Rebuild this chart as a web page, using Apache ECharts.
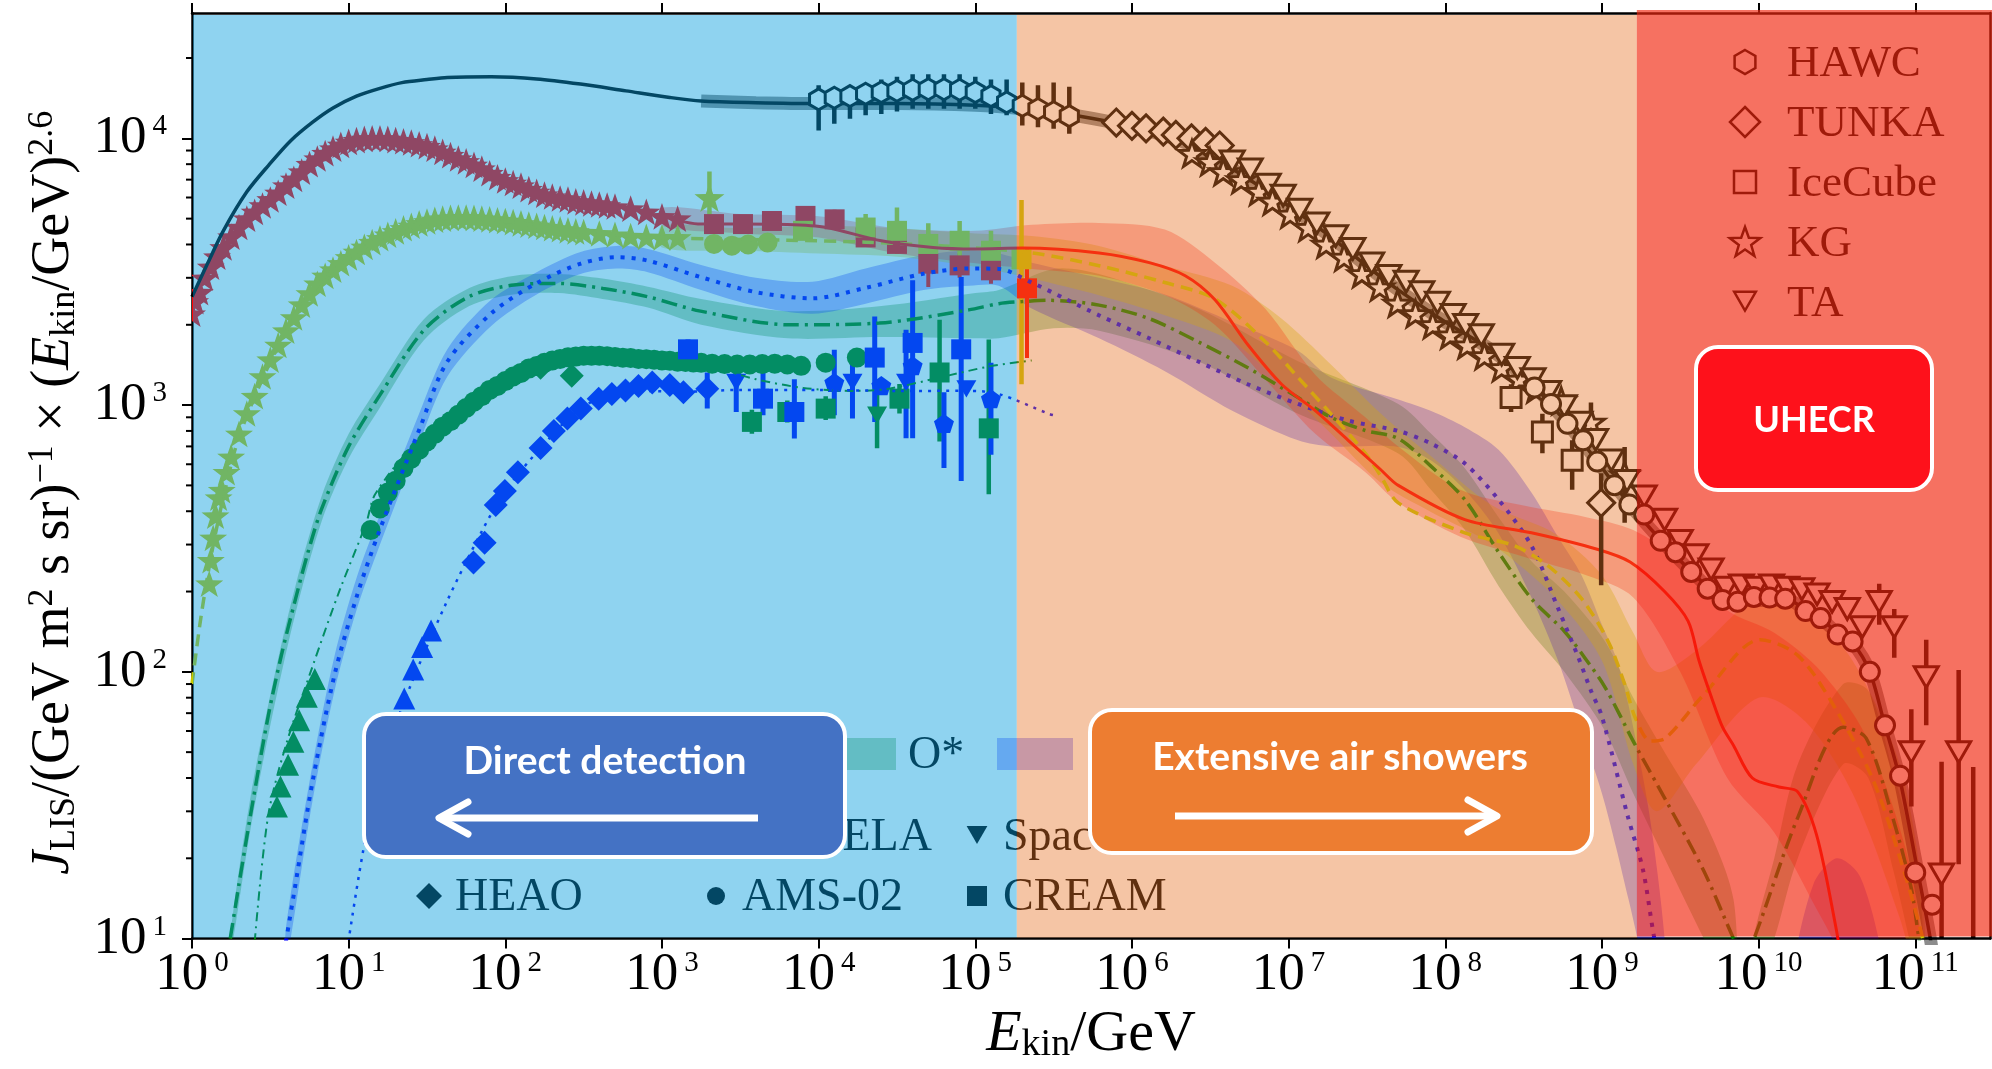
<!DOCTYPE html>
<html>
<head>
<meta charset="utf-8">
<title>Cosmic-ray spectra</title>
<script src="https://cdn.jsdelivr.net/npm/echarts@6.0.0/dist/echarts.min.js"></script>
<style>
html,body{margin:0;padding:0;background:#ffffff;}
#chart{width:1992px;height:1069px;}
</style>
</head>
<body>
<div id="chart"></div>
<script>
// Energies are log10(E_kin / GeV); fluxes are J_LIS * E^2.6.

const xTickValues = [1e0, 1e1, 1e2, 1e3, 1e4, 1e5, 1e6, 1e7, 1e8, 1e9, 1e10, 1e11];
const yTickValues = [1e1, 1e2, 1e3, 1e4];
const yMinorTickValues = [20, 30, 40, 50, 60, 70, 80, 90, 200, 300, 400, 500, 600, 700, 800, 900,
  2000, 3000, 4000, 5000, 6000, 7000, 8000, 9000, 20000];
const regionBounds = [1, 1.84e5, 1.67e9, 3e11];

// ---- model curves [lgE, J] ----
const allParticleModel = [[0.00,2550],[0.10,3400],[0.20,4500],[0.35,6300],[0.49,7940],[0.63,9800],[0.77,11500],[0.90,13000],[1.05,14400],[1.20,15400],[1.34,16170],[1.50,16600],[1.63,16900],[1.91,17000],[2.20,16700],[2.48,15970],[2.77,15060],[3.05,14230],[3.25,13800],[3.60,13600],[4.00,13500],[4.50,13500],[5.00,13300],[5.30,12900],[5.63,12200],[5.90,11400],[6.10,10700],[6.38,9420],[6.67,7500],[6.95,5850],[7.24,4400],[7.52,3250],[7.72,2650],[8.00,2050],[8.30,1600],[8.57,1170],[8.78,850],[8.97,615],[9.175,425],[9.375,312],[9.57,238],[9.77,190],[9.97,185],[10.19,186],[10.30,170],[10.40,158],[10.50,140],[10.60,128],[10.71,100],[10.80,65],[10.90,40],[11.00,20],[11.10,9.7],[11.15,6]];
const protonModel = [[3.00,5100],[3.25,4770],[3.50,4770],[3.80,4750],[4.05,4630],[4.40,4130],[4.73,3900],[5.00,3850],[5.30,3880],[5.79,3720],[6.11,3420],[6.34,3055],[6.53,2480],[6.74,1683],[6.955,1197],[7.17,953],[7.38,738],[7.59,571],[7.70,500],[8.125,372],[8.55,332],[8.97,288],[9.18,258],[9.40,200],[9.55,155],[9.62,110],[9.70,80],[9.77,62],[9.84,53],[9.96,40],[10.13,37],[10.25,35.5],[10.37,24.5],[10.49,11.3],[10.55,7]];
const heliumModel = [[0.00,90],[0.05,150],[0.10,230],[0.15,330],[0.20,450],[0.30,760],[0.50,1450],[0.70,2350],[0.90,3200],[1.20,4200],[1.50,4850],[1.80,5000],[2.10,4800],[2.50,4450],[2.90,4270],[3.30,4200],[3.80,4150],[4.30,4080],[4.80,3950],[5.36,3720],[5.79,3330],[6.21,2880],[6.53,2500],[6.85,1730],[7.06,1270],[7.27,927],[7.49,659],[7.59,540],[7.70,430],[8.125,332],[8.44,297],[8.655,250],[8.87,188],[9.04,130],[9.145,90],[9.214,67],[9.311,55],[9.408,56.5],[9.649,82],[10.01,132],[10.252,115],[10.493,72.4],[10.734,38.9],[10.927,18],[11.048,10],[11.10,7]];
const oxygenModel = [[0.244,10],[0.30,16],[0.372,28.7],[0.486,68],[0.57,115],[0.656,183],[0.74,280],[0.828,409],[1.00,700],[1.198,1087],[1.483,1918],[1.768,2550],[2.054,2820],[2.339,2857],[2.624,2737],[2.909,2548],[3.246,2250],[3.817,2000],[4.387,2030],[4.958,2275],[5.15,2400],[5.30,2443],[5.47,2470],[5.79,2370],[6.11,2110],[6.42,1730],[6.74,1380],[7.06,1067],[7.27,900],[7.49,803],[7.70,749],[7.91,589],[8.125,442],[8.34,281],[8.55,188],[8.76,142],[8.89,113],[9.02,87.5],[9.214,53],[9.408,33],[9.649,18],[9.84,10],[9.90,8.5],[9.962,9.7],[10.252,28.6],[10.54,62],[10.686,56.5],[10.855,28.6],[10.975,15.4],[11.024,10],[11.08,7]];
const carbonModel = [[0.40,9.7],[0.485,28.6],[0.599,53],[0.77,105],[0.941,201],[1.112,361],[1.169,463],[1.40,690],[1.70,950],[2.00,1230],[2.30,1430],[2.60,1510],[3.00,1470],[3.30,1400],[3.60,1250],[3.90,1160],[4.20,1130],[4.44,1150],[4.80,1280],[5.10,1400],[5.36,1470]];
const ironModel = [[0.599,9.7],[0.656,15.4],[0.77,38.9],[0.912,98.6],[1.055,194.5],[1.198,340],[1.454,818],[1.626,1443],[1.911,2208],[2.196,2857],[2.482,3390],[2.709,3583],[2.909,3480],[3.246,3020],[3.60,2650],[3.959,2512],[4.30,2750],[4.672,3110],[4.958,3250],[5.15,3240],[5.36,2880],[5.57,2510],[5.79,2170],[6.11,1780],[6.42,1460],[6.74,1197],[7.06,1010],[7.38,875],[7.70,800],[7.91,717],[8.125,604],[8.34,442],[8.55,297],[8.72,173],[8.85,113],[8.93,85],[9.00,68],[9.166,28.6],[9.263,18],[9.335,10],[9.40,7]];
const ironLowModel = [[0.998,9.7],[1.112,24.5],[1.255,53],[1.398,89.7],[1.626,183],[1.854,340],[2.00,476],[2.225,690],[2.48,970],[2.77,1135],[3.14,1122],[3.50,1140],[4.00,1140],[4.50,1130],[4.958,1131],[5.15,1100],[5.47,927],[5.50,916]];

// ---- uncertainty bands [lgE, low, high] ----
const protonBand = [[3.0,4700,5500],[3.5,4400,5200],[4.0,4250,5100],[4.5,3700,4600],[5.0,3400,4500],[5.36,3240,4740],[5.79,3055,4820],[6.21,2580,4550],[6.53,1995,3420],[6.85,1250,2300],[7.17,780,1300],[7.49,560,900],[7.70,430,700],[8.1,320,480],[8.5,270,420],[8.9,230,380],[9.2,190,340],[9.5,100,260],[9.8,40,170],[10.1,25,140],[10.4,12,100],[10.7,6,55],[11.0,5,15]];
const heliumBand = [[3.0,3900,4700],[3.5,3800,4600],[4.0,3700,4700],[4.5,3600,4600],[5.0,3300,4400],[5.36,2980,4300],[5.79,2580,3950],[6.21,2170,3330],[6.64,1730,2800],[6.95,1197,2120],[7.27,782,1420],[7.59,510,927],[7.9,400,650],[8.3,300,420],[8.7,190,330],[9.0,110,230],[9.2,45,140],[9.35,30,100],[9.6,45,120],[10.0,80,190],[10.3,65,170],[10.6,35,110],[10.9,12,45],[11.05,6,14]];
const oxygenBand = [[0.25,9,11],[0.37,25,33],[0.5,63,82],[0.66,165,210],[0.83,370,460],[1.0,630,780],[1.2,980,1200],[1.48,1750,2100],[1.77,2350,2750],[2.05,2600,3050],[2.34,2630,3100],[2.62,2500,2980],[2.91,2320,2780],[3.25,2000,2500],[3.8,1780,2250],[4.4,1800,2350],[5.0,1780,2630],[5.15,1780,2700],[5.5,1940,3240],[5.79,1900,3100],[6.42,1460,2300],[7.06,927,1460],[7.70,659,1010],[7.91,480,780],[8.125,340,580],[8.34,210,380],[8.55,140,260],[8.76,100,200],[9.02,60,130],[9.2,35,80],[9.4,20,50],[9.65,10,28],[9.84,6,14]];
const oxygenBandHigh = [[9.95,6,9],[10.1,10,20],[10.25,20,45],[10.54,45,90],[10.7,40,85],[10.86,18,42],[11.0,8,20],[11.06,6,9]];
const ironBand = [[0.6,8,11],[0.77,33,45],[0.91,85,115],[1.05,170,225],[1.2,300,390],[1.45,720,930],[1.63,1280,1620],[1.91,1980,2480],[2.2,2600,3150],[2.48,3100,3750],[2.71,3250,3950],[2.91,3150,3850],[3.25,2700,3350],[3.6,2350,3000],[3.96,2200,2900],[4.3,2400,3250],[4.67,2700,3650],[4.96,2800,3800],[5.15,2800,3700],[5.36,2300,3420],[5.79,1780,3000],[6.21,1340,2600],[6.64,953,2050],[7.06,738,1600],[7.27,700,1270],[7.70,697,1050],[7.91,620,950],[8.125,480,826],[8.34,330,680],[8.55,190,470],[8.72,110,320],[8.87,60,230],[9.0,35,150],[9.09,22,113],[9.17,14,75],[9.3,7,30],[9.4,6,10]];
const ironBandHigh = [[10.2,6,7],[10.35,9,16],[10.5,10,20],[10.65,9,17],[10.8,6,8]];

// ---- direct measurements [lgE, J] ----
const protonStars = [[0.00,2200],[0.02,2450],[0.05,2650],[0.08,3000],[0.12,3300],[0.16,3600],[0.20,3900],[0.25,4280],[0.30,4650],[0.35,5000],[0.40,5300],[0.45,5600],[0.50,5900],[0.55,6250],[0.60,6650],[0.65,7050],[0.70,7500],[0.75,8000],[0.80,8400],[0.85,8800],[0.90,9150],[0.95,9450],[1.00,9700],[1.05,9850],[1.10,9950],[1.15,10000],[1.20,10000],[1.25,9950],[1.30,9850],[1.35,9750],[1.40,9650],[1.45,9500],[1.50,9350],[1.55,9150],[1.60,8900],[1.65,8650],[1.70,8400],[1.75,8200],[1.80,7950],[1.85,7700],[1.90,7400],[1.95,7150],[2.00,6950],[2.05,6800],[2.10,6650],[2.15,6450],[2.20,6300],[2.25,6150],[2.30,6050],[2.35,5950],[2.40,5900],[2.45,5800],[2.50,5750],[2.55,5700],[2.60,5650],[2.65,5600],[2.70,5550],[2.80,5450],[2.90,5300],[3.00,5100],[3.10,5000]];
const protonSquaresHigh = [[3.332,4770],[3.517,4770],[3.702,4900],[3.916,5120],[4.102,4970]];
const protonSquaresLow = [[4.30,4250],[4.50,4020],[4.70,3390],[4.90,3340],[5.10,3200],[5.33,2740]];
const protonErrors = [[4.102,4600,5400],[4.50,3700,4350],[4.70,2770,3590],[4.90,3000,3700],[5.10,2850,3550],[5.33,1500,3840]];

const heliumStars = [[0.11,214],[0.12,262],[0.135,318],[0.15,385],[0.17,450],[0.19,480],[0.22,560],[0.25,640],[0.30,780],[0.35,930],[0.40,1080],[0.45,1280],[0.50,1480],[0.55,1680],[0.60,1900],[0.65,2130],[0.70,2380],[0.75,2620],[0.80,2850],[0.85,3050],[0.90,3220],[0.95,3400],[1.00,3580],[1.05,3750],[1.10,3920],[1.15,4080],[1.20,4220],[1.25,4350],[1.30,4480],[1.35,4600],[1.40,4700],[1.45,4800],[1.50,4880],[1.55,4950],[1.60,5000],[1.65,5030],[1.70,5050],[1.75,5050],[1.80,5030],[1.85,5000],[1.90,4970],[1.95,4930],[2.00,4900],[2.05,4850],[2.10,4800],[2.15,4750],[2.20,4700],[2.25,4650],[2.30,4600],[2.35,4560],[2.40,4520],[2.45,4480],[2.50,4450],[2.60,4400],[2.70,4350],[2.80,4300],[2.90,4270],[3.00,4250],[3.10,4250]];
const heliumCircles = [[3.332,4020],[3.446,3960],[3.55,4000],[3.674,4070]];
const heliumSquares = [[3.90,4500],[4.30,4630],[4.50,4500],[4.70,4020],[4.90,4130],[5.10,3790],[5.295,3520]];
const heliumBigStar = [[3.303,5990]];
const heliumErrors = [[3.303,4770,7510],[4.30,4100,5200],[4.50,3690,5500],[4.70,3400,4800],[4.90,3600,4900],[5.10,3300,4500],[5.295,1197,5870]];

const oxygenCircles = [[1.14,340],[1.20,410],[1.25,470],[1.30,520],[1.35,580],[1.40,630],[1.45,680],[1.50,730],[1.55,780],[1.60,830],[1.65,870],[1.70,920],[1.75,975],[1.80,1030],[1.85,1080],[1.90,1140],[1.95,1180],[2.00,1230],[2.05,1280],[2.10,1320],[2.15,1370],[2.20,1400],[2.25,1440],[2.30,1470],[2.35,1490],[2.40,1510],[2.45,1520],[2.50,1530],[2.55,1530],[2.60,1530],[2.65,1525],[2.70,1515],[2.75,1505],[2.80,1500],[2.85,1490],[2.90,1485],[2.95,1480],[3.00,1470],[3.05,1465],[3.10,1455],[3.15,1450],[3.20,1445],[3.25,1440],[3.32,1430],[3.40,1425],[3.48,1420],[3.56,1420],[3.64,1425],[3.72,1430],[3.80,1420],[3.888,1403],[4.045,1442],[4.244,1507]];
const oxygenTriangles = [[0.542,31.3],[0.565,37.2],[0.613,44.8],[0.647,54.7],[0.684,65.9],[0.733,80.6],[0.784,94]];
const oxygenDiamonds = [[2.225,1380],[2.424,1289]];
const oxygenSquares = [[3.574,865],[3.80,942],[4.045,970],[4.516,1057],[4.772,1325],[5.086,818]];
const oxygenTriDown = [[4.373,916]];
const oxygenErrors = [[3.574,780,960],[3.80,860,1040],[4.045,880,1080],[4.373,689,1250],[4.516,930,1200],[4.772,730,2090],[5.086,463,1762]];

const ironTriangles = [[1.355,79.4],[1.412,102],[1.469,124],[1.526,143]];
const ironDiamonds = [[1.797,257],[1.868,305],[1.939,422],[1.997,476],[2.08,560],[2.225,690],[2.31,800],[2.396,891],[2.482,970],[2.596,1057],[2.68,1100],[2.767,1133],[2.85,1180],[2.938,1216],[3.05,1190],[3.137,1117],[3.289,1151]];
const ironSquares = [[3.166,1618],[3.645,1057],[3.845,942],[4.358,1507],[4.60,1710],[4.91,1618]];
const ironTriDown = [[3.474,1216],[4.216,1216],[4.558,1216],[4.943,1151]];
const ironPentagons = [[4.10,1216],[4.40,1183],[4.60,1403],[4.80,853],[5.10,1057]];
const ironErrors = [[3.166,1365,1762],[3.289,970,1325],[3.474,942,1442],[3.645,916,1442],[3.845,750,1250],[4.10,916,1614],[4.216,890,1442],[4.358,865,2148],[4.558,751,1918],[4.60,751,2940],[4.80,581,1117],[4.91,519,3020],[5.10,651,1442]];

// ---- air-shower measurements [lgE, J] and [lgE, low, high] ----
const hawcData = [[4.0,14000],[4.1,14200],[4.2,14400],[4.3,14700],[4.4,14900],[4.5,15060],[4.6,15200],[4.7,15280],[4.8,15280],[4.9,15200],[5.0,14900],[5.1,14400],[5.2,13640],[5.3,13240],[5.4,12880],[5.5,12530],[5.6,12110]];
const hawcErrors = [[4.0,10700,15800],[4.1,11340,15000],[4.2,11840,14800],[4.3,12200,15600],[4.4,12350,16600],[4.5,12600,17000],[4.6,12900,17400],[4.7,12900,17400],[4.8,12900,17400],[4.9,12900,17400],[5.0,12900,17000],[5.1,12350,16600],[5.2,12200,16600],[5.3,11170,16200],[5.4,11000,15800],[5.5,10860,16200],[5.6,10400,15600]];
const tunkaData = [[5.90,11460],[6.00,11140],[6.09,10900],[6.20,10600],[6.28,10300],[6.38,10000],[6.47,9700],[6.56,9400],[8.995,430]];
const tunkaErrors = [[8.995,211,555]];
const iceCubeData = [[8.42,1067],[8.62,792],[8.81,621]];
const iceCubeErrors = [[8.42,942,1197],[8.62,660,927],[8.81,482,738]];
const kgData = [[6.383,8770],[6.498,8170],[6.583,7500],[6.697,6990],[6.81,6320],[6.897,5810],[7.01,5190],[7.125,4630],[7.24,4010],[7.354,3580],[7.468,3110],[7.582,2770],[7.696,2410],[7.81,2200],[7.92,2000],[8.03,1830],[8.14,1680],[8.25,1530],[8.36,1380],[8.47,1250],[8.58,1150],[8.74,1038],[8.93,863],[9.145,547]];
const kgErrors = [[8.93,760,1023],[9.145,362,697]];
const taData = [[6.64,8200],[6.755,7650],[6.87,6700],[6.965,6100],[7.07,5400],[7.18,4800],[7.30,4300],[7.41,3850],[7.53,3400],[7.64,3050],[7.75,2900],[7.85,2650],[7.95,2420],[8.05,2180],[8.13,2000],[8.23,1830],[8.36,1545],[8.46,1380],[8.56,1250],[8.66,1120],[8.76,990],[8.86,860],[8.96,740],[9.06,620],[9.16,520],[9.27,455],[9.40,372],[9.50,310],[9.60,274],[9.697,242],[9.793,207],[9.89,211],[9.986,207],[10.083,211],[10.18,207],[10.276,204],[10.373,195],[10.469,183],[10.566,172],[10.662,147],[10.77,183],[10.866,147],[10.975,50],[11.07,95.5],[11.168,17.4],[11.277,50]];
const taErrors = [[10.77,150,214],[10.866,113,172],[10.975,31.3,72.4],[11.07,63,132],[11.168,6,46],[11.277,19,101.6],[11.37,6,44]];
const uheCircles = [[8.57,1164],[8.675,1010],[8.78,851],[8.88,738],[8.97,614],[9.08,501],[9.175,424],[9.27,389],[9.375,310],[9.47,281],[9.57,237],[9.675,205],[9.77,186],[9.866,183],[9.97,191],[10.07,190],[10.17,188],[10.30,169],[10.396,159],[10.505,138],[10.60,130],[10.71,100],[10.807,63],[10.903,40.8],[11.0,17.7],[11.108,13.4]];

// ---------------------------------------------------------------
const SERIF = 'Liberation Serif';
const SANS = 'Lato';
const RED = 'rgb(255,0,0)';
const GOLD = 'rgb(200,200,0)';
const GREEN = 'rgb(0,128,0)';
const BLUE = 'rgb(0,0,255)';
const BLACK = '#000000';
const REGION_TINTS = ['rgba(7,158,222,0.45)', 'rgba(231,116,39,0.415)', 'rgba(242,39,15,0.66)'];

const STAR_PATH = 'M0,-10L2.351,-3.236L9.511,-3.09L3.804,1.236L5.878,8.09L0,4L-5.878,8.09L-3.804,1.236L-9.511,-3.09L-2.351,-3.236Z';
const SYM = {
  star: 'path://' + STAR_PATH,
  hex: 'path://M0,-10L8.66,-5L8.66,5L0,10L-8.66,5L-8.66,-5Z',
  triDown: 'path://M-10,-8.66L10,-8.66L0,8.66Z',
  pent: 'path://M0,-10L9.511,-3.09L5.878,8.09L-5.878,8.09L-9.511,-3.09Z'
};

const toE = lg => Math.pow(10, lg);
const pts = rows => rows.map(r => [toE(r[0]), r[1]]);

function lineSeries(name, rows, color, width, type, z) {
  return { name, type: 'line', data: pts(rows), z, symbol: 'none', showSymbol: false,
    smooth: 0.3, silent: true, clip: true, animation: false,
    lineStyle: { color, width, type, cap: 'butt' } };
}
function scatterSeries(name, rows, symbol, size, fill, stroke, strokeWidth, z) {
  return { name, type: 'scatter', data: pts(rows), z, symbol, symbolSize: size,
    symbolKeepAspect: true, silent: true, clip: true, animation: false,
    itemStyle: { color: fill, borderColor: stroke || fill, borderWidth: strokeWidth || 0, opacity: 1 } };
}
// star markers cut at the plot frame, for the dense low-energy data
function clippedStarSeries(name, rows, size, fill, z) {
  return { name, type: 'custom', z, silent: true, clip: true, animation: false,
    data: pts(rows), encode: { x: 0, y: 1 },
    renderItem(params, api) {
      const p = api.coord([api.value(0), api.value(1)]);
      return { type: 'path', shape: { pathData: STAR_PATH, x: p[0] - size / 2, y: p[1] - size / 2,
        width: size, height: size, layout: 'center' }, style: { fill } };
    } };
}
function errorBarSeries(name, rows, color, width, z) {
  return { name, type: 'custom', z, silent: true, clip: true, animation: false,
    data: rows.map(r => [toE(r[0]), r[1], r[2]]),
    encode: { x: 0, y: [1, 2] },
    renderItem(params, api) {
      const a = api.coord([api.value(0), api.value(1)]);
      const b = api.coord([api.value(0), api.value(2)]);
      return { type: 'line', shape: { x1: a[0], y1: a[1], x2: b[0], y2: b[1] },
        style: { stroke: color, lineWidth: width } };
    } };
}
function bandSeries(name, rows, fill, z) {
  return { name, type: 'custom', z, silent: true, clip: true, animation: false,
    data: [[toE(rows[0][0]), rows[0][2]]],
    encode: { x: 0, y: 1 },
    renderItem(params, api) {
      const upper = rows.map(r => api.coord([toE(r[0]), r[2]]));
      const lower = rows.map(r => api.coord([toE(r[0]), r[1]])).reverse();
      return { type: 'polygon', shape: { points: upper.concat(lower), smooth: 0.3 }, style: { fill } };
    } };
}

const tickRich = {
  b: { fontFamily: SERIF, fontSize: 53, lineHeight: 52, color: '#000' },
  s: { fontFamily: SERIF, fontSize: 29, lineHeight: 18, color: '#000', verticalAlign: 'top', padding: [0, 0, 0, 6] }
};
function decadeLabel(v) {
  const e = Math.log10(v);
  if (Math.abs(e - Math.round(e)) > 1e-6) return '';
  return '{b|10}{s|' + Math.round(e) + '}';
}

// ---- legend helpers (pixel geometry of the key symbols) ----
function polyPts(cx, cy, r, n, rot) {
  const p = [];
  for (let i = 0; i < n; i++) {
    const a = rot + i * 2 * Math.PI / n;
    p.push([cx + r * Math.sin(a), cy - r * Math.cos(a)]);
  }
  return p;
}
function starPts(cx, cy, R, r) {
  const p = [];
  for (let i = 0; i < 10; i++) {
    const a = i * Math.PI / 5;
    const rr = i % 2 === 0 ? R : r;
    p.push([cx + rr * Math.sin(a), cy - rr * Math.cos(a)]);
  }
  return p;
}
const legendFont = '46px "' + SERIF + '"';
const keyFont = '45px "' + SERIF + '"';
const hollow = { fill: 'rgba(255,255,255,0)', stroke: '#000', lineWidth: 2.5 };

const legendGraphics = [
  // band key patches
  { type: 'rect', z: 4, shape: { x: 820, y: 738, width: 76, height: 32 }, style: { fill: 'rgba(0,128,0,0.31)' } },
  { type: 'text', z: 4, x: 908, y: 756, style: { text: 'O*', font: legendFont, fill: '#000', verticalAlign: 'middle' } },
  { type: 'rect', z: 4, shape: { x: 997, y: 738, width: 76, height: 32 }, style: { fill: 'rgba(0,0,255,0.3)' } },
  // experiment keys
  { type: 'text', z: 4, x: 747, y: 838, style: { text: 'PAMELA', font: legendFont, fill: '#000', verticalAlign: 'middle' } },
  { type: 'polygon', z: 4, shape: { points: polyPts(977, 832, 12, 3, Math.PI) }, style: { fill: '#000' } },
  { type: 'text', z: 4, x: 1003, y: 838, style: { text: 'Space', font: legendFont, fill: '#000', verticalAlign: 'middle' } },
  { type: 'polygon', z: 4, shape: { points: polyPts(429, 896, 13, 4, 0) }, style: { fill: '#000' } },
  { type: 'text', z: 4, x: 455, y: 898, style: { text: 'HEAO', font: legendFont, fill: '#000', verticalAlign: 'middle' } },
  { type: 'circle', z: 4, shape: { cx: 716, cy: 896, r: 9 }, style: { fill: '#000' } },
  { type: 'text', z: 4, x: 742, y: 898, style: { text: 'AMS-02', font: legendFont, fill: '#000', verticalAlign: 'middle' } },
  { type: 'rect', z: 4, shape: { x: 967, y: 886, width: 20, height: 20 }, style: { fill: '#000' } },
  { type: 'text', z: 4, x: 1003, y: 898, style: { text: 'CREAM', font: legendFont, fill: '#000', verticalAlign: 'middle' } },
  // air-shower keys
  { type: 'polygon', z: 4, shape: { points: polyPts(1745, 62, 12, 6, 0) }, style: hollow },
  { type: 'text', z: 4, x: 1787, y: 64, style: { text: 'HAWC', font: keyFont, fill: '#000', verticalAlign: 'middle' } },
  { type: 'polygon', z: 4, shape: { points: polyPts(1745, 122, 15, 4, 0) }, style: hollow },
  { type: 'text', z: 4, x: 1787, y: 124, style: { text: 'TUNKA', font: keyFont, fill: '#000', verticalAlign: 'middle' } },
  { type: 'rect', z: 4, shape: { x: 1734, y: 171, width: 22, height: 22 }, style: hollow },
  { type: 'text', z: 4, x: 1787, y: 184, style: { text: 'IceCube', font: keyFont, fill: '#000', verticalAlign: 'middle' } },
  { type: 'polygon', z: 4, shape: { points: starPts(1745, 243, 16, 6.5) }, style: hollow },
  { type: 'text', z: 4, x: 1787, y: 244, style: { text: 'KG', font: keyFont, fill: '#000', verticalAlign: 'middle' } },
  { type: 'polygon', z: 4, shape: { points: polyPts(1745, 298, 12.5, 3, Math.PI) }, style: hollow },
  { type: 'text', z: 4, x: 1787, y: 304, style: { text: 'TA', font: keyFont, fill: '#000', verticalAlign: 'middle' } }
];

const boxFont = 'bold 39px ' + SANS;
const boxGraphics = [
  { type: 'rect', z: 10, shape: { x: 364, y: 714, width: 481, height: 143, r: 22 }, style: { fill: '#4472c4', stroke: '#ffffff', lineWidth: 4 } },
  { type: 'text', z: 11, x: 605, y: 761, style: { text: 'Direct detection', font: boxFont, fill: '#ffffff', align: 'center', verticalAlign: 'middle' } },
  { type: 'line', z: 11, shape: { x1: 758, y1: 818, x2: 442, y2: 818 }, style: { stroke: '#ffffff', lineWidth: 7 } },
  { type: 'polyline', z: 11, shape: { points: [[468, 802], [439, 818], [468, 834]] }, style: { stroke: '#ffffff', lineWidth: 7, fill: 'none', lineJoin: 'round', lineCap: 'round' } },

  { type: 'rect', z: 10, shape: { x: 1090, y: 710, width: 502, height: 143, r: 22 }, style: { fill: '#ed7d31', stroke: '#ffffff', lineWidth: 4 } },
  { type: 'text', z: 11, x: 1340, y: 757, style: { text: 'Extensive air showers', font: boxFont, fill: '#ffffff', align: 'center', verticalAlign: 'middle' } },
  { type: 'line', z: 11, shape: { x1: 1175, y1: 816, x2: 1494, y2: 816 }, style: { stroke: '#ffffff', lineWidth: 7 } },
  { type: 'polyline', z: 11, shape: { points: [[1468, 800], [1497, 816], [1468, 832]] }, style: { stroke: '#ffffff', lineWidth: 7, fill: 'none', lineJoin: 'round', lineCap: 'round' } },

  { type: 'rect', z: 10, shape: { x: 1696, y: 347, width: 236, height: 143, r: 22 }, style: { fill: '#fe111b', stroke: '#ffffff', lineWidth: 4 } },
  { type: 'text', z: 11, x: 1814, y: 420, style: { text: 'UHECR', font: 'bold 36px ' + SANS, fill: '#ffffff', align: 'center', verticalAlign: 'middle' } }
];

// ---------------------------------------------------------------
const series = [
  // uncertainty bands
  bandSeries('O band', oxygenBand, 'rgba(0,128,0,0.31)', 1),
  bandSeries('O band high', oxygenBandHigh, 'rgba(0,128,0,0.31)', 1),
  bandSeries('Fe band', ironBand, 'rgba(0,0,255,0.3)', 1),
  bandSeries('Fe band high', ironBandHigh, 'rgba(0,0,255,0.3)', 1),
  bandSeries('He band', heliumBand, 'rgba(200,200,0,0.35)', 1),
  bandSeries('H band', protonBand, 'rgba(255,0,0,0.28)', 1),
  lineSeries('all band', allParticleModel.filter(r => r[0] >= 3.25), 'rgba(0,0,0,0.45)', 13, 'solid', 1),

  // direct measurements
  clippedStarSeries('H stars', protonStars, 28, RED, 2),
  clippedStarSeries('He stars', heliumStars, 28, GOLD, 2),
  scatterSeries('O circles', oxygenCircles, 'circle', 20, GREEN, null, 0, 2),
  scatterSeries('O triangles', oxygenTriangles, 'triangle', 22, GREEN, null, 0, 2),
  scatterSeries('O diamonds', oxygenDiamonds, 'diamond', 24, GREEN, null, 0, 2),
  scatterSeries('Fe triangles', ironTriangles, 'triangle', 22, BLUE, null, 0, 2),
  scatterSeries('Fe diamonds', ironDiamonds, 'diamond', 24, BLUE, null, 0, 2),
  errorBarSeries('H err', protonErrors, RED, 4, 2),
  errorBarSeries('He err', heliumErrors, GOLD, 4.5, 2),
  errorBarSeries('O err', oxygenErrors, GREEN, 4.5, 2),
  errorBarSeries('Fe err', ironErrors, BLUE, 5, 2),
  scatterSeries('H squares', protonSquaresHigh, 'rect', 20, RED, null, 0, 2),
  scatterSeries('H squares 2', protonSquaresLow, 'rect', 20, RED, null, 0, 2),
  scatterSeries('He circles', heliumCircles, 'circle', 20, GOLD, null, 0, 2),
  scatterSeries('He squares', heliumSquares, 'rect', 20, GOLD, null, 0, 2),
  scatterSeries('He star', heliumBigStar, SYM.star, 30, GOLD, null, 0, 2),
  scatterSeries('O squares', oxygenSquares, 'rect', 20, GREEN, null, 0, 2),
  scatterSeries('O tri down', oxygenTriDown, SYM.triDown, 20, GREEN, null, 0, 2),
  scatterSeries('Fe squares', ironSquares, 'rect', 20, BLUE, null, 0, 2),
  scatterSeries('Fe tri down', ironTriDown, SYM.triDown, 20, BLUE, null, 0, 2),
  scatterSeries('Fe pentagons', ironPentagons, SYM.pent, 20, BLUE, null, 0, 2),

  // models
  lineSeries('C model', carbonModel, GREEN, 2, [9, 5, 2, 5], 3),
  lineSeries('Fe low model', ironLowModel, BLUE, 2.5, [3, 6], 3),
  lineSeries('O model', oxygenModel, GREEN, 3.5, [16, 6, 3, 6], 3),
  lineSeries('Fe model', ironModel, BLUE, 4, [4, 7], 3),
  lineSeries('He model', heliumModel, GOLD, 3.5, [12, 7], 3),
  lineSeries('H model', protonModel, RED, 3, 'solid', 3),
  lineSeries('all-particle', allParticleModel, BLACK, 3.5, 'solid', 3),

  // air-shower measurements
  errorBarSeries('HAWC err', hawcErrors, BLACK, 4.5, 4),
  errorBarSeries('TUNKA err', tunkaErrors, BLACK, 4.5, 4),
  errorBarSeries('IceCube err', iceCubeErrors, BLACK, 4.5, 4),
  errorBarSeries('KG err', kgErrors, BLACK, 4.5, 4),
  errorBarSeries('TA err', taErrors, BLACK, 4.5, 4),
  scatterSeries('HAWC', hawcData, SYM.hex, 21, '#ffffff', BLACK, 3, 4),
  scatterSeries('TUNKA', tunkaData, 'diamond', 27, '#ffffff', BLACK, 3, 4),
  scatterSeries('KG', kgData, SYM.star, 27, '#ffffff', BLACK, 3, 4),
  scatterSeries('TA', taData, SYM.triDown, 24, '#ffffff', BLACK, 3, 4),
  scatterSeries('IceCube', iceCubeData, 'rect', 20, '#ffffff', BLACK, 3, 4),
  scatterSeries('UHE', uheCircles, 'circle', 19, '#ffffff', BLACK, 3, 4),

  // y minor ticks
  { type: 'custom', name: 'minor ticks', z: 5, silent: true, clip: false, animation: false,
    data: yMinorTickValues.map(v => [1, v]), encode: { x: 0, y: 1 },
    renderItem(params, api) {
      const p = api.coord([1, api.value(1)]);
      return { type: 'line', shape: { x1: p[0] - 6, y1: p[1], x2: p[0], y2: p[1] }, style: { stroke: '#000', lineWidth: 2 } };
    } },

  // detection-technique regions
  { type: 'custom', name: 'regions', z: 8, silent: true, clip: false, animation: false,
    data: [[regionBounds[0], regionBounds[1], 0, 10], [regionBounds[1], regionBounds[2], 1, 10], [regionBounds[2], regionBounds[3], 2, 10]],
    encode: { x: [0, 1], y: 3 },
    renderItem(params, api) {
      const cs = params.coordSys;
      const i = api.value(2);
      let x0 = api.coord([api.value(0), 10])[0];
      let x1 = api.coord([api.value(1), 10])[0];
      let y0 = cs.y + 2, y1 = cs.y + cs.height - 1;
      if (i === 0) x0 = cs.x + 1;
      if (i === 2) { y0 = cs.y - 3; y1 = cs.y + cs.height - 2; x1 = cs.x + cs.width + 4; }
      return { type: 'rect', shape: { x: x0, y: y0, width: x1 - x0, height: y1 - y0 }, style: { fill: REGION_TINTS[i] } };
    } }
];

const axisLineStyle = { color: '#000', width: 2.5 };
const option = {
  animation: false,
  backgroundColor: '#ffffff',
  textStyle: { fontFamily: SERIF },
  grid: { left: 192, right: 2, top: 13, bottom: 118, containLabel: false },
  xAxis: [
    { type: 'log', logBase: 10, min: 1, max: 3e11, position: 'bottom', interval: 1,
      axisLine: { show: true, lineStyle: axisLineStyle },
      axisTick: { show: true, length: 10, lineStyle: { color: '#000', width: 2 }, customValues: xTickValues },
      axisLabel: { show: true, margin: 10, fontFamily: SERIF, fontSize: 53, color: '#000',
        customValues: xTickValues, formatter: decadeLabel, rich: tickRich },
      splitLine: { show: false }, minorTick: { show: false },
      name: '{i|E}{sub|kin}{n|/GeV}', nameLocation: 'middle', nameGap: 62,
      nameTextStyle: { fontFamily: SERIF, rich: {
        i: { fontFamily: SERIF, fontStyle: 'italic', fontSize: 58, lineHeight: 58, color: '#000' },
        sub: { fontFamily: SERIF, fontSize: 38, lineHeight: 38, color: '#000', verticalAlign: 'bottom' },
        n: { fontFamily: SERIF, fontSize: 58, lineHeight: 58, color: '#000' } } } },
    { type: 'log', logBase: 10, min: 1, max: 3e11, position: 'top', interval: 1,
      axisLine: { show: true, lineStyle: axisLineStyle },
      axisTick: { show: true, length: 10, lineStyle: { color: '#000', width: 2 }, customValues: xTickValues },
      axisLabel: { show: false }, splitLine: { show: false } }
  ],
  yAxis: [
    { type: 'log', logBase: 10, min: 10, max: 29500, position: 'left', interval: 1,
      axisLine: { show: true, lineStyle: axisLineStyle },
      axisTick: { show: true, length: 10, lineStyle: { color: '#000', width: 2 }, customValues: yTickValues },
      axisLabel: { show: true, margin: 25, fontFamily: SERIF, fontSize: 53, color: '#000',
        customValues: yTickValues, formatter: decadeLabel, rich: tickRich },
      splitLine: { show: false }, minorTick: { show: false },
      name: '{i|J}{ss|LIS}{n|/(GeV m}{sp|2}{n| s sr)}{sp|\u22121}{n| \u00d7 (}{i|E}{ss|kin}{n|/GeV)}{sp|2.6}',
      nameLocation: 'middle', nameGap: 108, nameRotate: 90,
      nameTextStyle: { fontFamily: SERIF, padding: [0, 34, 0, 0], rich: {
        i: { fontFamily: SERIF, fontStyle: 'italic', fontSize: 54, lineHeight: 58, color: '#000' },
        n: { fontFamily: SERIF, fontSize: 54, lineHeight: 58, color: '#000' },
        ss: { fontFamily: SERIF, fontSize: 36, lineHeight: 36, color: '#000', verticalAlign: 'bottom' },
        sp: { fontFamily: SERIF, fontSize: 36, lineHeight: 30, color: '#000', verticalAlign: 'top' } } } },
    { type: 'log', logBase: 10, min: 10, max: 29500, position: 'right',
      axisLine: { show: true, lineStyle: axisLineStyle },
      axisTick: { show: false }, axisLabel: { show: false }, splitLine: { show: false } }
  ],
  graphic: { elements: legendGraphics.concat(boxGraphics) },
  series
};

const chart = echarts.init(document.getElementById('chart'), null, { renderer: 'canvas' });
chart.setOption(option);
</script>
</body>
</html>
